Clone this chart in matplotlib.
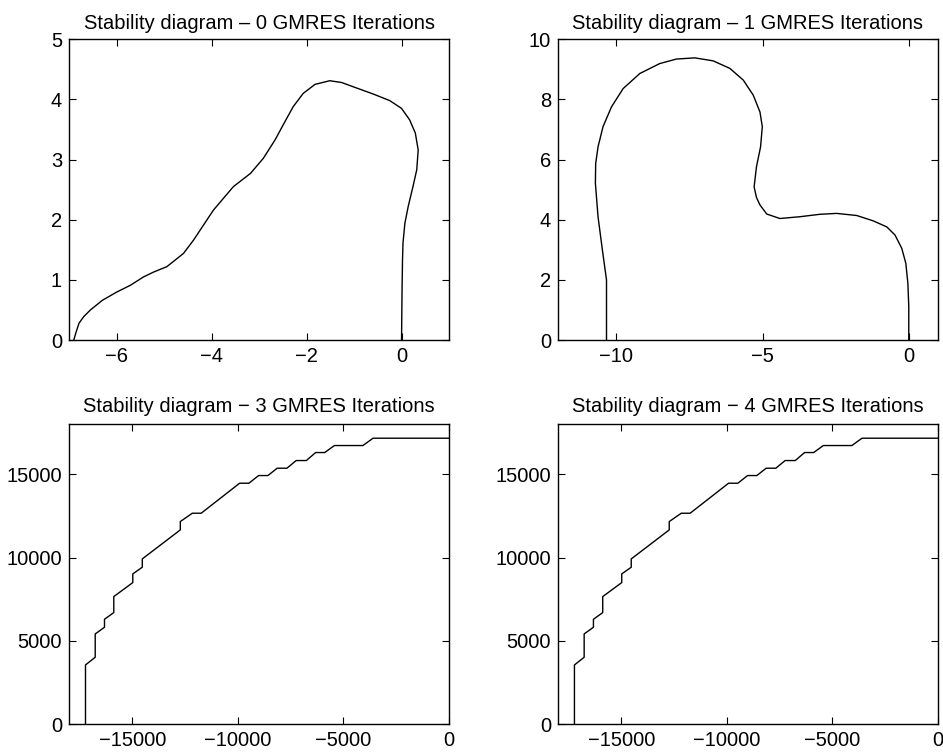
import numpy as np
import matplotlib as mpl
mpl.use('Agg')
import matplotlib.pyplot as plt

mpl.rcParams['font.family'] = ['Liberation Sans', 'DejaVu Sans']

# stability boundary, 0 GMRES iterations
x0 = [0.0, 0.01, 0.02, 0.03, 0.07, 0.14, 0.24, 0.32, 0.35, 0.29, 0.17, 0.0,
      -0.25, -0.60, -0.95, -1.26, -1.51, -1.82, -2.07, -2.28, -2.49, -2.66, -2.91,
      -3.18, -3.54, -3.96, -4.38, -4.59, -4.94, -5.22, -5.43, -5.71, -5.99, -6.30,
      -6.55, -6.69, -6.79, -6.86, -6.9]
y0 = [0.0, 0.8, 1.33, 1.61, 1.94, 2.22, 2.55, 2.83, 3.16, 3.44, 3.66, 3.85,
      3.98, 4.09, 4.19, 4.28, 4.31, 4.25, 4.10, 3.88, 3.58, 3.33, 3.02,
      2.77, 2.55, 2.16, 1.66, 1.44, 1.22, 1.13, 1.05, 0.91, 0.80, 0.66,
      0.50, 0.39, 0.28, 0.11, 0.0]

# stability boundary, 1 GMRES iteration
x1 = [-10.34, -10.34, -10.48, -10.63, -10.72, -10.71, -10.63, -10.46, -10.17, -9.77,
      -9.20, -8.52, -7.95, -7.32, -6.69, -6.12, -5.66, -5.32, -5.09, -5.01,
      -5.07, -5.21, -5.29, -5.21, -5.09, -4.86, -4.41, -3.72, -3.04, -2.47,
      -1.78, -1.21, -0.75, -0.47, -0.24, -0.10, -0.03, 0.0, 0.0]
y1 = [0.0, 2.0, 2.99, 4.10, 5.21, 5.87, 6.42, 7.09, 7.75, 8.36,
      8.86, 9.19, 9.34, 9.38, 9.28, 9.03, 8.64, 8.14, 7.58, 7.09,
      6.42, 5.76, 5.09, 4.74, 4.49, 4.19, 4.04, 4.10, 4.18, 4.21,
      4.14, 3.96, 3.76, 3.49, 3.05, 2.55, 1.88, 1.11, 0.0]

# staircase boundary, 3 and 4 GMRES iterations (same picture)
x3 = [-17220, -17220, -16760, -16760, -16320, -16320, -15880, -15880, -14980, -14980,
      -14530, -14530, -12730, -12730, -12160, -11740, -9920, -9480, -9020, -8580,
      -8140, -7680, -7240, -6760, -6320, -5890, -5430, -4080, -3600, 0]
y3 = [0, 3560, 4020, 5420, 5820, 6300, 6700, 7660, 8500, 9020,
      9420, 9920, 11660, 12160, 12660, 12660, 14460, 14460, 14920, 14920,
      15360, 15360, 15820, 15820, 16300, 16300, 16720, 16720, 17160, 17160]

fig = plt.figure(figsize=(9.43, 7.54), dpi=100)
ax1 = fig.add_axes([0.0732, 0.549, 0.403, 0.399])
ax2 = fig.add_axes([0.5917, 0.549, 0.403, 0.399])
ax3 = fig.add_axes([0.0732, 0.0394, 0.403, 0.398])
ax4 = fig.add_axes([0.5917, 0.0394, 0.403, 0.398])

ax1.plot(x0, y0, 'k', lw=1)
ax1.set_xlim(-7, 1)
ax1.set_ylim(0, 5)
ax1.set_xticks([-6, -4, -2, 0])
ax1.set_yticks([0, 1, 2, 3, 4, 5])
ax1.set_title('Stability diagram – 0 GMRES Iterations', fontsize=14.5, pad=7)

ax2.plot(x1, y1, 'k', lw=1)
ax2.set_xlim(-12, 1)
ax2.set_ylim(0, 10)
ax2.set_xticks([-10, -5, 0])
ax2.set_yticks([0, 2, 4, 6, 8, 10])
ax2.set_title('Stability diagram – 1 GMRES Iterations', fontsize=14.5, pad=7)

for ax, n in [(ax3, 3), (ax4, 4)]:
    ax.plot(x3, y3, 'k', lw=1)
    ax.set_xlim(-18000, 0)
    ax.set_ylim(0, 18000)
    ax.set_xticks([-15000, -10000, -5000, 0])
    ax.set_yticks([0, 5000, 10000, 15000])
    ax.set_title('Stability diagram − %d GMRES Iterations' % n, fontsize=14.5, pad=9)

for ax in [ax1, ax2, ax3, ax4]:
    ax.tick_params(direction='in', top=True, right=True, length=5, width=0.8,
                   labelsize=14.5, pad=5)
    for s in ax.spines.values():
        s.set_linewidth(1.0)

fig.savefig('out.png', dpi=100)
